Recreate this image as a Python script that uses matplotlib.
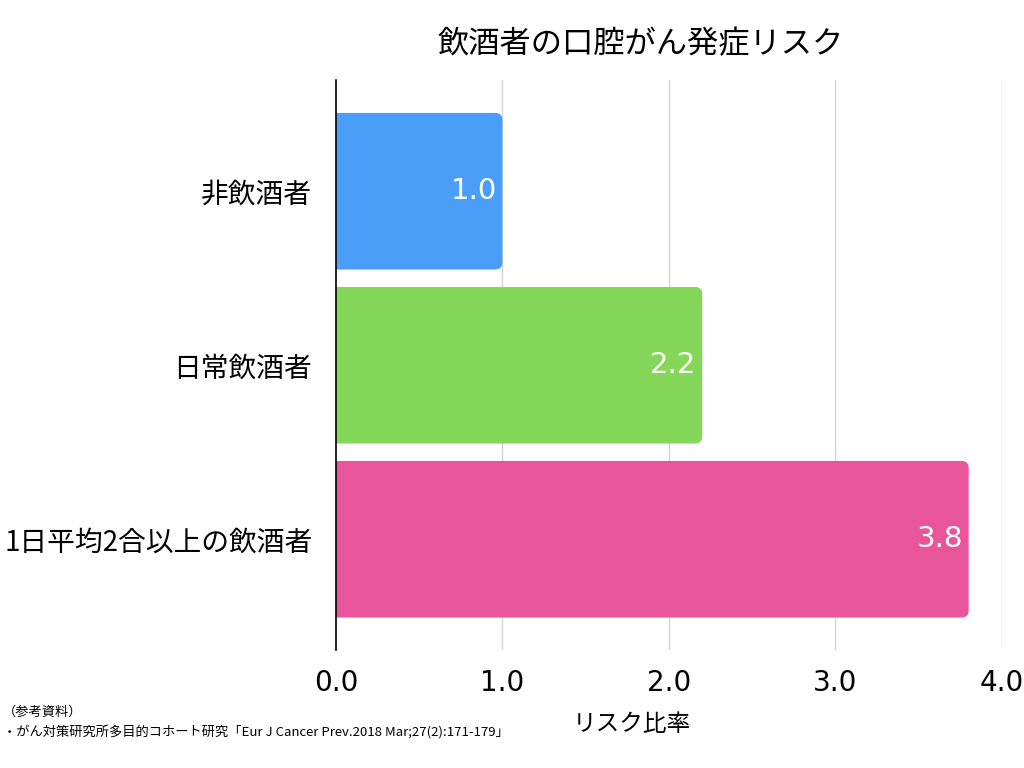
import matplotlib
matplotlib.use("Agg")
from matplotlib import pyplot as plt
from matplotlib.patches import FancyBboxPatch

plt.rcParams['font.family'] = ['Noto Sans CJK JP', 'DejaVu Sans']

categories = ["非飲酒者", "日常飲酒者", "1日平均2合以上の飲酒者"]
values = [1.0, 2.2, 3.8]
colors = ["#4A9EF7", "#85D75A", "#E9559B"]
x_ticks = [0.0, 1.0, 2.0, 3.0, 4.0]

fig = plt.figure(figsize=(10.24, 7.68), dpi=100)
ax = fig.add_axes([0.328, 0.154, 0.6505, 0.742])

bar_h = 0.9
ax.set_xlim(0, 4)
ax.set_ylim(2.635, -0.64)

# pixel sizes per data unit, for the rounded corners
px_x = 0.6505 * 1024 / 4
px_y = 0.742 * 768 / 3.275
rad = 7 / px_x
for i, (v, c) in enumerate(zip(values, colors)):
    # start left of the axis so only the right corners look rounded
    box = FancyBboxPatch((-0.2 + rad, i - bar_h / 2 + rad * px_x / px_y),
                         v + 0.2 - 2 * rad, bar_h - 2 * rad * px_x / px_y,
                         boxstyle="round,pad=%f,rounding_size=%f" % (rad, rad),
                         mutation_aspect=px_x / px_y,
                         facecolor=c, edgecolor="none", zorder=2)
    ax.add_patch(box)
    ax.text(v - 0.035, i, "%.1f" % v, ha="right", va="center", color="white",
            fontsize=21, family=["DejaVu Sans"], zorder=3)

ax.set_yticks(range(len(categories)))
ax.set_yticklabels(categories, fontsize=20)
ax.set_xticks(x_ticks)
ax.set_xticklabels(["%.1f" % t for t in x_ticks], fontsize=20, family=["DejaVu Sans"])
ax.tick_params(axis="both", length=0)
ax.tick_params(axis="y", pad=17)
ax.tick_params(axis="x", pad=14)

for t in x_ticks[1:]:
    ax.axvline(t, color="#D5D5D5", linewidth=1, zorder=1)

for s in ["top", "right", "bottom"]:
    ax.spines[s].set_visible(False)
ax.spines["left"].set_color("black")
ax.spines["left"].set_linewidth(1.2)
ax.spines["left"].set_zorder(4)

fig.text(0.626, 0.942, "飲酒者の口腔がん発症リスク", ha="center", va="center", fontsize=22.5)
fig.text(0.617, 0.057, "リスク比率", ha="center", va="center", fontsize=17)
fig.text(0.003, 0.072, "（参考資料）", ha="left", va="center", fontsize=9.5)
fig.text(0.003, 0.046, "・がん対策研究所多目的コホート研究「Eur J Cancer Prev.2018 Mar;27(2):171-179」",
         ha="left", va="center", fontsize=9.5)

fig.savefig("out.png", dpi=100)
